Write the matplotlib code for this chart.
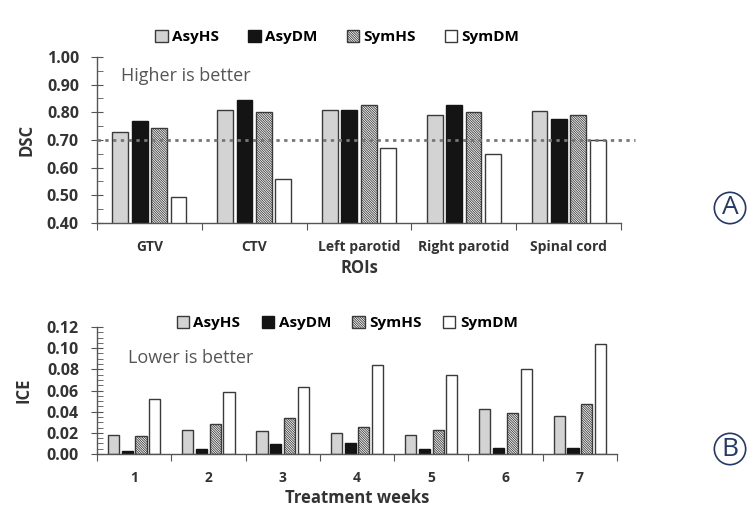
import numpy as np
import matplotlib.pyplot as plt
from matplotlib.ticker import MultipleLocator

plt.rcParams['font.family'] = ['Open Sans', 'DejaVu Sans']
plt.rcParams['hatch.linewidth'] = 0.6

# ---------- data ----------
series = ['AsyHS', 'AsyDM', 'SymHS', 'SymDM']

rois = ['GTV', 'CTV', 'Left parotid', 'Right parotid', 'Spinal cord']
dsc_asyhs = [0.73, 0.81, 0.81, 0.79, 0.805]
dsc_asydm = [0.77, 0.845, 0.81, 0.825, 0.775]
dsc_symhs = [0.745, 0.80, 0.825, 0.80, 0.79]
dsc_symdm = [0.495, 0.56, 0.67, 0.65, 0.70]

weeks = ['1', '2', '3', '4', '5', '6', '7']
ice_asyhs = [0.018, 0.023, 0.022, 0.020, 0.018, 0.043, 0.036]
ice_asydm = [0.003, 0.005, 0.009, 0.010, 0.005, 0.006, 0.006]
ice_symhs = [0.017, 0.028, 0.034, 0.026, 0.023, 0.039, 0.047]
ice_symdm = [0.052, 0.059, 0.063, 0.084, 0.075, 0.080, 0.104]

# ---------- styles ----------
styles = [
    dict(color='#d3d3d3', edgecolor='#3a3a3a'),
    dict(color='#141414', edgecolor='#141414'),
    dict(color='white', edgecolor='#3a3a3a', hatch='\\' * 14),
    dict(color='white', edgecolor='#3a3a3a'),
]
offsets = [-0.2775, -0.0925, 0.0925, 0.2775]
bw = 0.15

fig = plt.figure(figsize=(7.5, 5.11), dpi=100)


def draw_panel(ax, cats, data, ylim, major, minor):
    x = np.arange(len(cats))
    bars = []
    for vals, st, off in zip(data, styles, offsets):
        bars.append(ax.bar(x + off, vals, width=bw, linewidth=1.0, **st))
    ax.set_xlim(-0.5, len(cats) - 0.5)
    ax.set_ylim(*ylim)
    for s in ['top', 'right']:
        ax.spines[s].set_visible(False)
    for s in ['left', 'bottom']:
        ax.spines[s].set_color('#555555')
        ax.spines[s].set_linewidth(1.0)
    # boundary ticks (no labels) + centred category labels
    ax.set_xticks(np.arange(len(cats) + 1) - 0.5)
    ax.set_xticklabels([])
    ax.set_xticks(x, minor=True)
    ax.set_xticklabels(cats, minor=True, fontweight='bold', fontsize=10,
                       color='#333333')
    ax.tick_params(axis='x', which='major', direction='out', length=5,
                   color='#555555')
    ax.tick_params(axis='x', which='minor', length=0, pad=12)
    ax.yaxis.set_major_locator(MultipleLocator(major))
    ax.yaxis.set_minor_locator(MultipleLocator(minor))
    ax.yaxis.set_major_formatter('{x:.2f}')
    ax.tick_params(axis='y', which='major', direction='inout', length=8,
                   color='#555555', labelsize=11.5, labelcolor='#333333', pad=9)
    ax.tick_params(axis='y', which='minor', direction='in', length=4,
                   color='#555555')
    for lab in ax.get_yticklabels():
        lab.set_fontweight('bold')
    return bars


# ---------- A: DSC ----------
ax1 = fig.add_axes([0.1293, 0.5636, 0.6987, 0.3249])
bars1 = draw_panel(ax1, rois, [dsc_asyhs, dsc_asydm, dsc_symhs, dsc_symdm],
                   (0.40, 1.00), 0.10, 0.05)
ax1.plot([-0.5, 4.63], [0.70, 0.70], linestyle=(0, (1.2, 1.6)), color='#777777',
         linewidth=2.0, clip_on=False, zorder=5)
ax1.text(0.045, 0.885, 'Higher is better', transform=ax1.transAxes,
         fontsize=13, color='#555555', va='center')
ax1.set_ylabel('DSC', fontweight='bold', fontsize=12, color='#333333',
               labelpad=8)
ax1.set_xlabel('ROIs', fontweight='bold', fontsize=12, color='#333333',
               labelpad=4)
ax1.legend(bars1, series, loc='center', bbox_to_anchor=(0.45, 0.9276),
           bbox_transform=fig.transFigure, ncol=4, frameon=False,
           handlelength=0.8, handleheight=0.8, handletextpad=0.3,
           columnspacing=1.9, prop=dict(weight='bold', size=11))

# ---------- B: ICE ----------
ax2 = fig.add_axes([0.1293, 0.1115, 0.6933, 0.2485])
bars2 = draw_panel(ax2, weeks, [ice_asyhs, ice_asydm, ice_symhs, ice_symdm],
                   (0.0, 0.12), 0.02, 0.005)
ax2.text(0.06, 0.76, 'Lower is better', transform=ax2.transAxes,
         fontsize=13, color='#555555', va='center')
ax2.set_ylabel('ICE', fontweight='bold', fontsize=12, color='#333333',
               labelpad=10)
ax2.set_xlabel('Treatment weeks', fontweight='bold', fontsize=12,
               color='#333333', labelpad=3)
ax2.legend(bars2, series, loc='center', bbox_to_anchor=(0.463, 0.368),
           bbox_transform=fig.transFigure, ncol=4, frameon=False,
           handlelength=0.8, handleheight=0.8, handletextpad=0.3,
           columnspacing=1.4, prop=dict(weight='bold', size=11))

# ---------- panel letters ----------
for letter, yy in [('A', 1 - 208 / 511), ('B', 1 - 449 / 511)]:
    fig.text(730 / 750, yy, letter, ha='center', va='center', fontsize=19,
             color='#24386a',
             bbox=dict(boxstyle='circle,pad=0.12', facecolor='none',
                       edgecolor='#24386a', linewidth=1.2))

fig.savefig('out.png', dpi=100)
